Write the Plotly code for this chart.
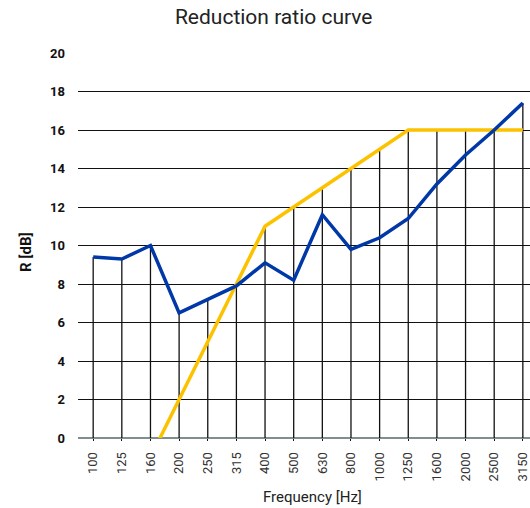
import plotly.graph_objects as go

frequencies = ["100", "125", "160", "200", "250", "315", "400", "500", "630",
               "800", "1000", "1250", "1600", "2000", "2500", "3150"]
measured_R = [9.4, 9.3, 10.0, 6.5, 7.2, 7.9, 9.1, 8.2, 11.6,
              9.8, 10.4, 11.4, 13.2, 14.7, 16.0, 17.4]
reference_R = [-7, -4, -1, 2, 5, 8, 11, 12, 13,
               14, 15, 16, 16, 16, 16, 16]
y_ticks = [0, 2, 4, 6, 8, 10, 12, 14, 16, 18, 20]

FONT = "Roboto"

W, H = 530, 508
L, T = 78, 53
B = H - 438
PW, PH = W - L, H - T - B

# drop lines from 0 up to the higher of the two curves
drop_x, drop_y = [], []
for f, a, b in zip(frequencies, measured_R, reference_R):
    top = min(max(a, b, 0), 20)
    drop_x += [f, f, None]
    drop_y += [0, top, None]

fig = go.Figure()
fig.add_trace(go.Scatter(x=drop_x, y=drop_y, mode="lines",
                         line=dict(color="#111111", width=1.3),
                         hoverinfo="skip", showlegend=False))
fig.add_trace(go.Scatter(x=frequencies, y=reference_R, mode="lines",
                         line=dict(color="#fcc200", width=3.5),
                         name="Reference", showlegend=False))
fig.add_trace(go.Scatter(x=frequencies, y=measured_R, mode="lines",
                         line=dict(color="#0038a8", width=3.5),
                         name="Measured", showlegend=False))

fig.update_layout(
    width=W, height=H,
    margin=dict(l=L, r=0, t=T, b=B, pad=0, autoexpand=False),
    paper_bgcolor="white", plot_bgcolor="white",
    font=dict(family=FONT, color="#222222"),
    title=dict(text="Reduction ratio curve", x=273.7 / W, xref="container",
               xanchor="center", y=1 - 17 / H, yref="container",
               yanchor="middle",
               font=dict(size=21, family=FONT, color="#222222")),
    xaxis=dict(type="category", categoryorder="array", categoryarray=frequencies,
               range=[-0.53, 15.25], showgrid=False, zeroline=False,
               showline=False, ticks="outside", ticklen=2, tickcolor="#111111",
               tickangle=-90, ticklabelstandoff=6, automargin=False,
               tickfont=dict(size=13, family=FONT, color="#333333")),
    yaxis=dict(range=[0, 20], tickvals=y_ticks, showgrid=True,
               gridcolor="#111111", gridwidth=1.3, zeroline=True,
               zerolinecolor="#7f8f8f", zerolinewidth=1.5, showline=False,
               ticks="", ticklabelstandoff=12, automargin=False,
               tickfont=dict(size=13, family=FONT, color="#111111", weight="bold")),
    annotations=[
        dict(text="Frequency [Hz]", xref="paper", yref="paper",
             x=(312.7 - 78) / PW, y=(438 - 497) / PH, xanchor="center",
             yanchor="middle", showarrow=False,
             font=dict(size=15, family=FONT, color="#222222")),
        dict(text="R [dB]", xref="paper", yref="paper",
             x=(26 - 78) / PW, y=(438 - 252) / PH, xanchor="center",
             yanchor="middle", showarrow=False, textangle=-90,
             font=dict(size=15, family=FONT, color="#111111", weight="bold")),
    ],
)

fig.write_html(
    "out.html",
    config={"displayModeBar": False},
    post_script="document.body.style.margin='0';"
                "document.body.style.overflow='hidden';",
)
